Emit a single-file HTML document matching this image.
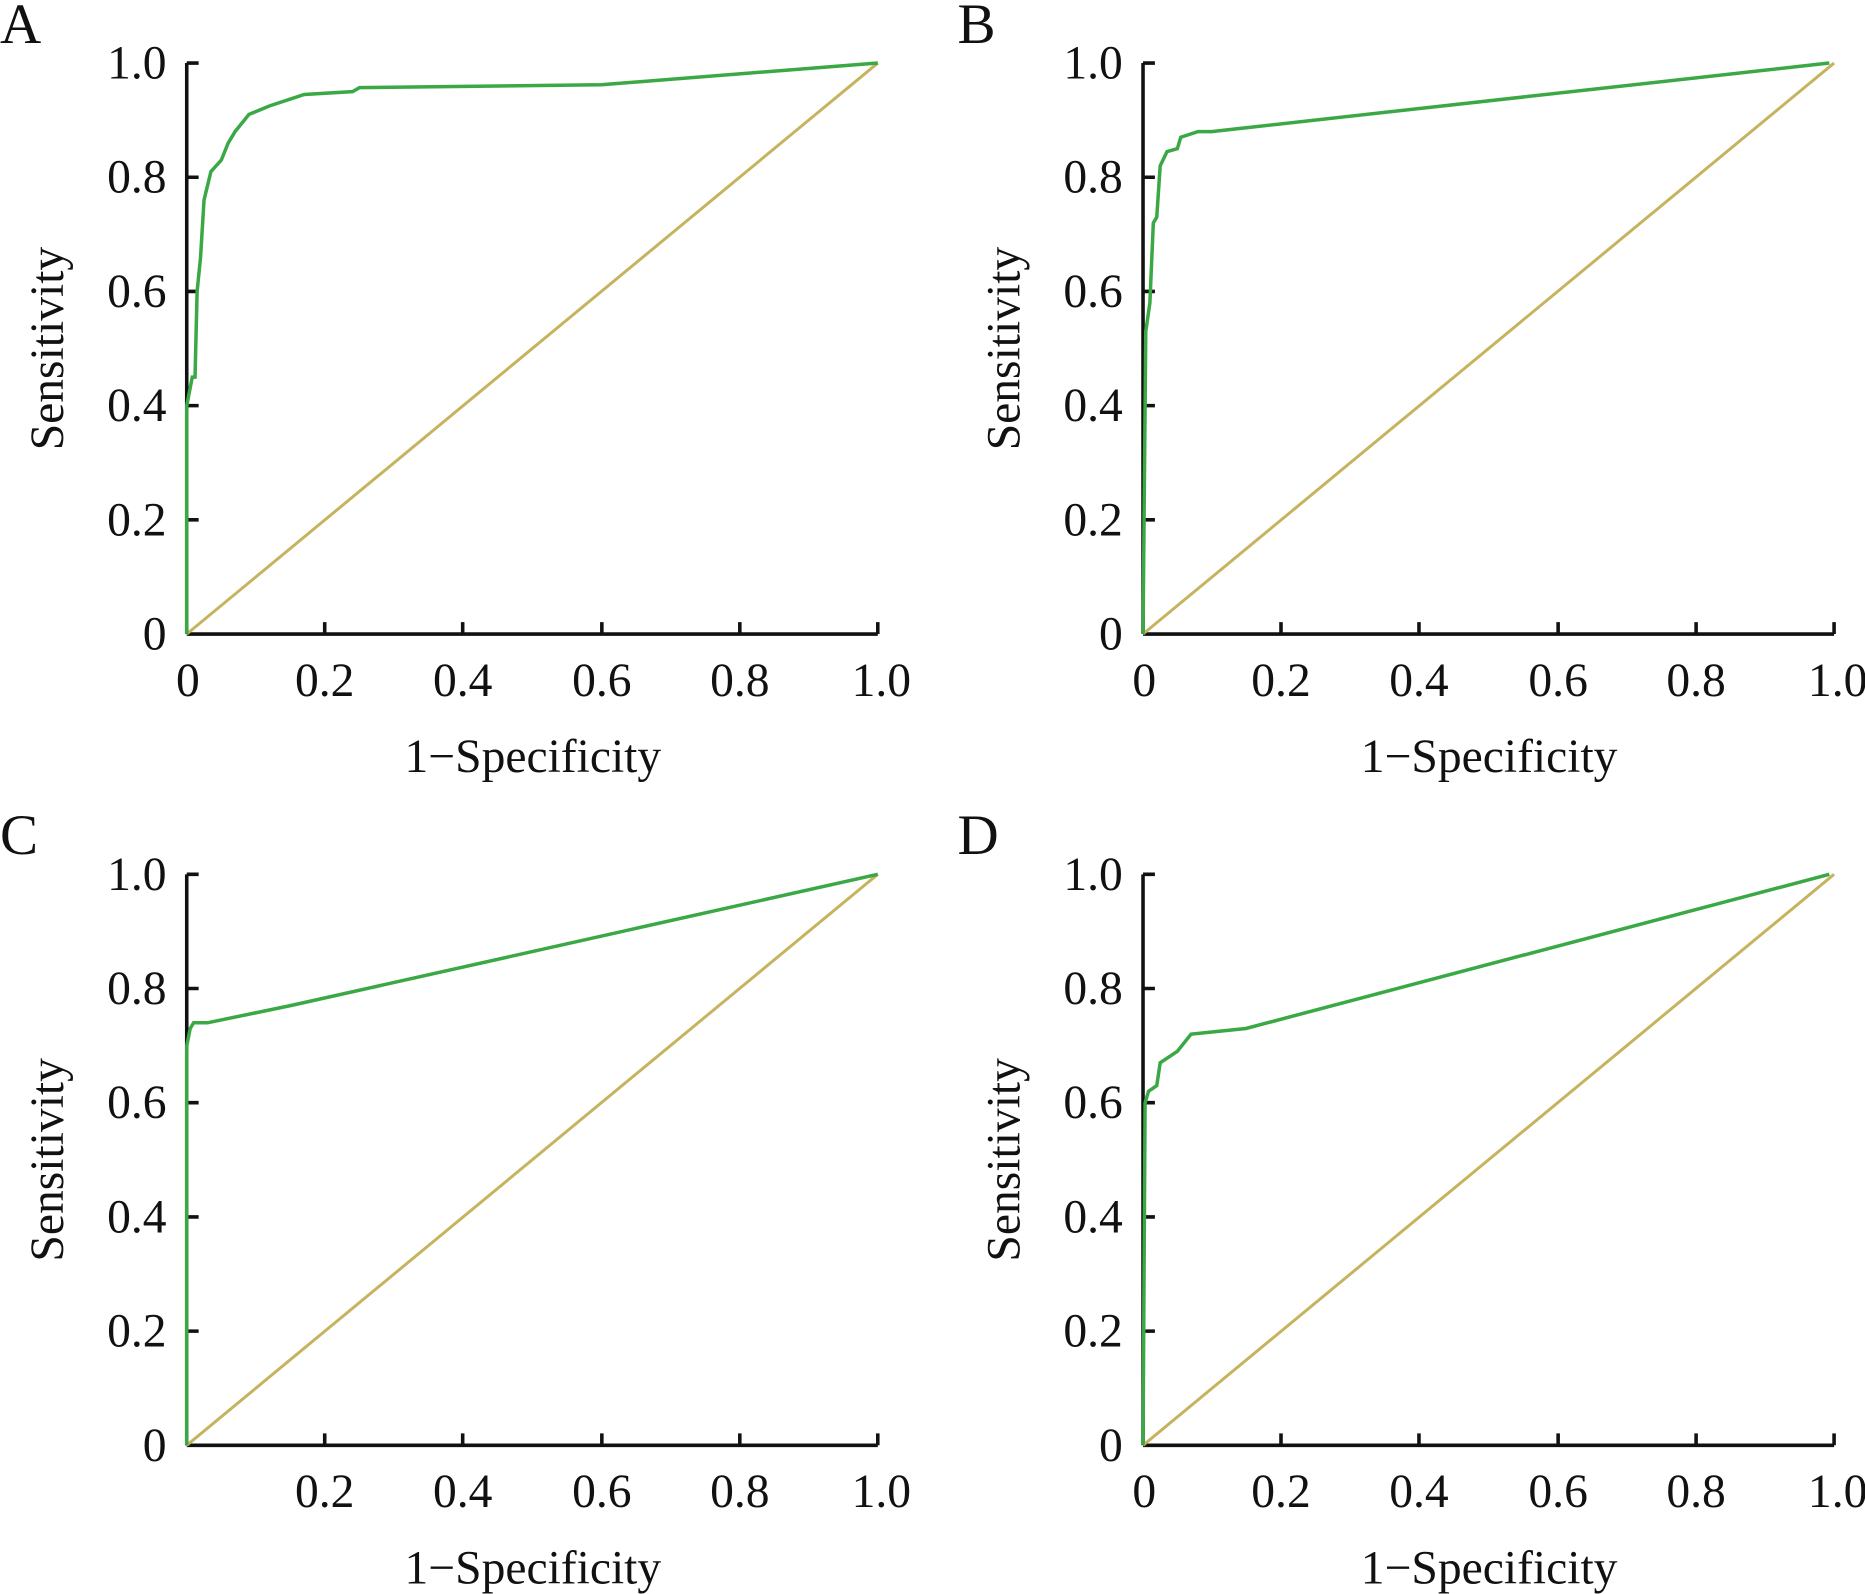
<!DOCTYPE html>
<html><head><meta charset="utf-8">
<style>
html,body{margin:0;padding:0;background:#fff;}
svg{display:block;}
text{font-family:"Liberation Serif",serif;fill:#111;}
</style></head>
<body>
<svg width="1865" height="1594" viewBox="0 0 1568 1340" preserveAspectRatio="none" xmlns="http://www.w3.org/2000/svg">
<defs>
<g id="axes">
  <path d="M0,0 V-480 M0,0 H581" stroke="#111" stroke-width="3" fill="none"/>
  <path d="M0,-96 h10 M0,-192 h10 M0,-288 h10 M0,-384 h10 M0,-480 h10 M116,0 v-10 M232,0 v-10 M349,0 v-10 M465,0 v-10 M581,0 v-10" stroke="#111" stroke-width="3"/>
  <line x1="0" y1="0" x2="581" y2="-480" stroke="#c6b35e" stroke-width="2.5"/>
  <g font-size="40" text-anchor="end">
    <text x="-17" y="13">0</text>
    <text x="-17" y="-83">0.2</text>
    <text x="-17" y="-179">0.4</text>
    <text x="-17" y="-275">0.6</text>
    <text x="-17" y="-371">0.8</text>
    <text x="-17" y="-467">1.0</text>
  </g>
  <g font-size="40" text-anchor="middle">
    <text x="116" y="52">0.2</text>
    <text x="232" y="52">0.4</text>
    <text x="349" y="52">0.6</text>
    <text x="465" y="52">0.8</text>
    <text x="584" y="52">1.0</text>
  </g>
  <text x="291" y="116" font-size="40" text-anchor="middle">1−Specificity</text>
  <text transform="translate(-104,-240) rotate(-90)" font-size="40" text-anchor="middle">Sensitivity</text>
</g>
</defs>

<g transform="translate(157,533)">
  <use href="#axes"/>
  <text x="1" y="52" font-size="40" text-anchor="middle">0</text>
  <g transform="scale(581,-480)">
    <polyline vector-effect="non-scaling-stroke" fill="none" stroke="#3aa845" stroke-width="3.5"
      points="0,0 0,0.4 0.008,0.45 0.012,0.45 0.015,0.6 0.02,0.66 0.025,0.76 0.035,0.81 0.05,0.83 0.06,0.86 0.07,0.88 0.09,0.91 0.12,0.925 0.17,0.945 0.24,0.95 0.25,0.957 0.6,0.962 1,1"/>
  </g>
</g>
<text x="0" y="36" font-size="48">A</text>

<g transform="translate(961,533)">
  <use href="#axes"/>
  <text x="1" y="52" font-size="40" text-anchor="middle">0</text>
  <g transform="scale(577,-480)">
    <polyline vector-effect="non-scaling-stroke" fill="none" stroke="#3aa845" stroke-width="3.5"
      points="0,0 0.004,0.53 0.01,0.58 0.015,0.72 0.02,0.73 0.025,0.82 0.035,0.845 0.05,0.85 0.055,0.87 0.08,0.88 0.1,0.88 1,1"/>
  </g>
</g>
<text x="805" y="36" font-size="48">B</text>

<g transform="translate(157,1215)">
  <use href="#axes"/>
  <g transform="scale(581,-480)">
    <polyline vector-effect="non-scaling-stroke" fill="none" stroke="#3aa845" stroke-width="3.5"
      points="0,0 0,0.7 0.005,0.73 0.01,0.74 0.03,0.74 0.15,0.77 1,1"/>
  </g>
</g>
<text x="0" y="718" font-size="48">C</text>

<g transform="translate(961,1215)">
  <use href="#axes"/>
  <text x="1" y="52" font-size="40" text-anchor="middle">0</text>
  <g transform="scale(577,-480)">
    <polyline vector-effect="non-scaling-stroke" fill="none" stroke="#3aa845" stroke-width="3.5"
      points="0,0 0.003,0.6 0.008,0.62 0.02,0.63 0.025,0.67 0.05,0.69 0.07,0.72 0.15,0.73 1,1"/>
  </g>
</g>
<text x="805" y="718" font-size="48">D</text>
</svg>
</body></html>
